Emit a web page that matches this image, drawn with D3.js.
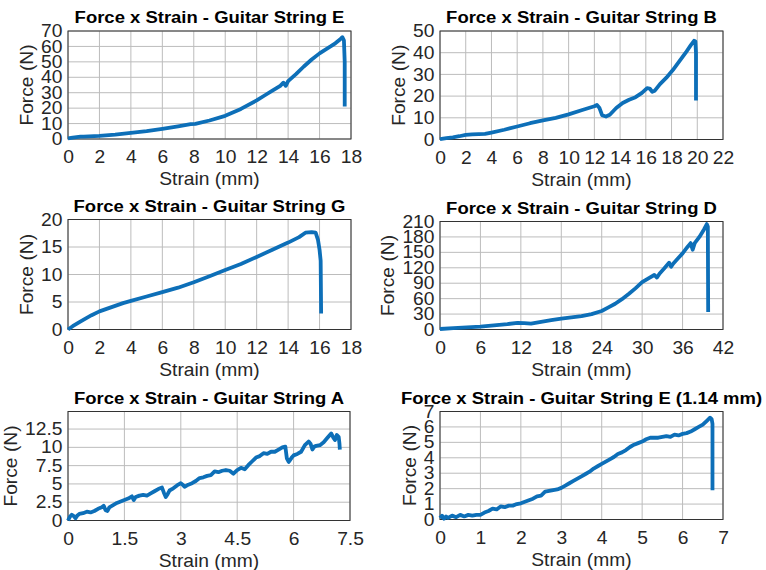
<!DOCTYPE html>
<html>
<head>
<meta charset="utf-8">
<script src="https://cdn.jsdelivr.net/npm/d3@7"></script>
<style>
  body { margin: 0; background: #fff; }
  svg { display: block; font-family: "Liberation Sans", Arial, sans-serif; }
</style>
</head>
<body>
<svg id="chart" width="766" height="570"></svg>
<script>
// guitar string E
var strainE = [0, 0.3, 0.8, 1, 2, 3, 4, 5, 6, 7, 7.8, 8.1, 9, 10, 11, 12, 12.5, 13, 13.5, 13.7, 13.85, 14, 14.5, 15, 15.5, 16, 16.3, 16.7, 17, 17.3, 17.45, 17.55, 17.6, 17.6];
var forceE = [0.4, 0.9, 1.5, 1.6, 2.0, 2.8, 3.9, 5.1, 6.6, 8.2, 9.6, 9.8, 12, 15, 19.5, 25, 28.2, 31.3, 34.5, 36.5, 34.5, 37.5, 42, 47, 51.5, 55.5, 57.5, 60, 62, 64.5, 66, 64, 50, 21];

// guitar string B
var strainB = [0, 0.5, 1, 1.5, 2, 2.5, 3, 3.5, 4, 5, 6, 7, 8, 9, 10, 11, 12, 12.2, 12.4, 12.6, 12.9, 13.2, 13.7, 14.2, 14.7, 15.2, 15.7, 16.1, 16.3, 16.5, 16.7, 17.1, 17.6, 18.1, 18.6, 19.1, 19.5, 19.75, 19.85, 19.9, 19.9];
var forceB = [0.2, 0.6, 1, 1.5, 2.1, 2.4, 2.5, 2.6, 3.2, 4.5, 6, 7.5, 8.8, 10, 11.6, 13.5, 15.3, 15.9, 14.5, 11.2, 10.6, 11.4, 14.5, 16.8, 18.3, 19.5, 21.5, 23.7, 23.5, 22, 22.5, 25.5, 28.5, 32, 36, 40, 43.5, 45.5, 45.3, 40, 18];

// guitar string G
var strainG = [0, 0.3, 0.7, 1, 1.5, 2, 2.5, 3, 3.5, 4, 5, 6, 7, 8, 9, 10, 11, 12, 13, 14, 14.7, 15.1, 15.5, 15.75, 15.9, 16.0, 16.07, 16.1];
var forceG = [0, 0.6, 1.3, 1.8, 2.6, 3.3, 3.8, 4.3, 4.8, 5.2, 6.0, 6.8, 7.6, 8.6, 9.7, 10.8, 11.9, 13.2, 14.5, 15.8, 16.8, 17.6, 17.7, 17.6, 16.3, 14.5, 12.5, 2.9];

// guitar string D
var strainD = [0, 2, 4, 6, 8, 10, 11.5, 12.5, 13.5, 15, 16.5, 18, 19.5, 21, 22.5, 24, 25, 26, 27, 28, 29, 30, 31, 31.8, 32.2, 32.6, 33.3, 34, 34.3, 34.6, 35.3, 36, 36.7, 37.2, 37.5, 37.8, 38.5, 39.2, 39.6, 39.75, 39.8];
var forceD = [1, 2.5, 4, 5.5, 8, 10.5, 13, 12.5, 11.5, 15, 18, 21, 23.5, 26, 30, 36, 43, 50, 59, 69, 80, 92, 100, 106, 101, 109, 119, 130, 122, 128, 138, 148, 160, 168, 155, 168, 180, 195, 205, 200, 34];

// guitar string A
var strainA = [0, 0.05, 0.1, 0.15, 0.2, 0.25, 0.3, 0.4, 0.5, 0.6, 0.7, 0.8, 0.9, 0.95, 1.0, 1.05, 1.1, 1.2, 1.3, 1.4, 1.5, 1.6, 1.7, 1.75, 1.8, 1.9, 2.0, 2.1, 2.2, 2.3, 2.4, 2.5, 2.55, 2.6, 2.65, 2.7, 2.8, 2.9, 3.0, 3.05, 3.1, 3.2, 3.3, 3.4, 3.5, 3.6, 3.7, 3.8, 3.9, 4.0, 4.1, 4.2, 4.3, 4.4, 4.5, 4.6, 4.7, 4.8, 4.9, 5.0, 5.1, 5.2, 5.3, 5.4, 5.5, 5.6, 5.7, 5.78, 5.82, 5.87, 5.95, 6.0, 6.1, 6.2, 6.3, 6.4, 6.45, 6.5, 6.55, 6.6, 6.7, 6.8, 6.9, 7.0, 7.05, 7.1, 7.15, 7.2, 7.22, 7.23];
var forceA = [0, 0.5, 0.8, 0.6, 0.3, 0.7, 0.9, 1.0, 1.2, 1.1, 1.3, 1.6, 1.8, 2.0, 1.4, 1.3, 1.8, 2.1, 2.4, 2.6, 2.8, 3.0, 3.3, 2.8, 3.2, 3.4, 3.5, 3.4, 3.7, 4.0, 4.3, 4.5, 3.8, 3.2, 3.6, 4.1, 4.4, 4.8, 5.1, 4.9, 4.6, 4.9, 5.1, 5.4, 5.8, 5.9, 6.1, 6.2, 6.7, 6.6, 6.8, 6.9, 6.8, 6.4, 6.9, 7.2, 7.0, 7.6, 8.1, 8.6, 8.8, 9.2, 9.1, 9.4, 9.4, 9.7, 10.0, 10.1, 8.5, 8.0, 8.6, 8.9, 9.1, 9.4, 10.3, 10.8, 10.5, 9.7, 10.1, 10.2, 10.3, 10.7, 11.3, 11.9, 11.4, 11.0, 11.7, 11.4, 10.5, 9.7];

// guitar string E (1.14 mm)
var strainE2 = [0, 0.05, 0.1, 0.15, 0.2, 0.3, 0.4, 0.5, 0.6, 0.7, 0.8, 0.9, 1.0, 1.1, 1.2, 1.3, 1.4, 1.5, 1.6, 1.7, 1.8, 1.9, 2.0, 2.1, 2.2, 2.3, 2.4, 2.5, 2.6, 2.7, 2.8, 2.9, 3.0, 3.1, 3.2, 3.3, 3.4, 3.5, 3.6, 3.7, 3.8, 3.9, 4.0, 4.1, 4.2, 4.3, 4.4, 4.5, 4.6, 4.7, 4.8, 4.9, 5.0, 5.1, 5.2, 5.3, 5.4, 5.5, 5.6, 5.7, 5.8, 5.9, 6.0, 6.1, 6.2, 6.3, 6.4, 6.5, 6.6, 6.68, 6.72, 6.74, 6.74];
var forceE2 = [0.1, 0.25, 0.05, 0.2, 0.1, 0.25, 0.15, 0.3, 0.2, 0.3, 0.25, 0.3, 0.3, 0.45, 0.55, 0.7, 0.65, 0.85, 0.8, 0.9, 0.9, 1.0, 1.05, 1.15, 1.25, 1.35, 1.5, 1.55, 1.8, 1.85, 1.9, 1.95, 2.05, 2.2, 2.35, 2.5, 2.65, 2.8, 2.95, 3.1, 3.3, 3.45, 3.6, 3.75, 3.9, 4.05, 4.25, 4.35, 4.5, 4.7, 4.85, 4.95, 5.05, 5.2, 5.3, 5.3, 5.3, 5.35, 5.4, 5.35, 5.5, 5.45, 5.55, 5.6, 5.7, 5.85, 6.0, 6.15, 6.4, 6.6, 6.5, 6.2, 1.9];

var panels = [
  { title: "Force x Strain - Guitar String E", xs: strainE, ys: forceE, xMax: 18, xStep: 2, yMax: 70, yTop: 70, yStep: 10, left: 68, right: 351, top: 31, bottom: 139 },
  { title: "Force x Strain - Guitar String B", xs: strainB, ys: forceB, xMax: 22, xStep: 2, yMax: 50, yTop: 50, yStep: 10, left: 440, right: 723, top: 31, bottom: 139.5 },
  { title: "Force x Strain - Guitar String G", xs: strainG, ys: forceG, xMax: 18, xStep: 2, yMax: 20, yTop: 20, yStep: 5, left: 68, right: 351, top: 219.5, bottom: 329.5 },
  { title: "Force x Strain - Guitar String D", xs: strainD, ys: forceD, xMax: 42, xStep: 6, yMax: 210, yTop: 210, yStep: 30, left: 440, right: 723, top: 221.5, bottom: 329.5 },
  { title: "Force x Strain - Guitar String A", xs: strainA, ys: forceA, xMax: 7.5, xStep: 1.5, yMax: 14.9, yTop: 12.5, yStep: 2.5, left: 68, right: 350, top: 411.5, bottom: 520.5 },
  { title: "Force x Strain - Guitar String E (1.14 mm)", xs: strainE2, ys: forceE2, xMax: 7, xStep: 1, yMax: 7, yTop: 7, yStep: 1, left: 440, right: 723, top: 411.5, bottom: 519.5 }
];

var svg = d3.select("#chart");
var sx = 1.1; // source text is a little wide
var blue = "#0d6fb8";

panels.forEach(function (p) {
  var x = d3.scaleLinear().domain([0, p.xMax]).range([p.left, p.right]);
  var y = d3.scaleLinear().domain([0, p.yMax]).range([p.bottom, p.top]);
  var xt = d3.range(0, p.xMax + 1e-6, p.xStep);
  var yt = d3.range(0, p.yTop + 1e-6, p.yStep);
  var g = svg.append("g");

  // grid
  g.append("g").selectAll("line").data(xt).enter().append("line")
      .attr("x1", d => x(d)).attr("x2", d => x(d))
      .attr("y1", p.top).attr("y2", p.bottom)
      .attr("stroke", "#bcbcbc").attr("stroke-width", 1);
  g.append("g").selectAll("line").data(yt).enter().append("line")
      .attr("x1", p.left).attr("x2", p.right)
      .attr("y1", d => y(d)).attr("y2", d => y(d))
      .attr("stroke", "#bcbcbc").attr("stroke-width", 1);

  // axes, labels only
  var ax = g.append("g")
      .attr("transform", "translate(0," + p.bottom + ")")
      .call(d3.axisBottom(x).tickValues(xt).tickSize(0).tickPadding(12).tickFormat(d => String(+d.toFixed(2))));
  var ay = g.append("g")
      .attr("transform", "translate(" + p.left + ",0)")
      .call(d3.axisLeft(y).tickValues(yt).tickSize(0).tickPadding(5).tickFormat(d => String(+d.toFixed(2))));
  [ax, ay].forEach(function (a) {
    a.select(".domain").remove();
    a.selectAll("text")
        .attr("font-size", 17.5)
        .attr("font-family", null)
        .attr("fill", "#262626")
        .attr("transform", "scale(" + sx + ",1)");
  });
  var bb = ay.node().getBBox();

  // box
  g.append("rect")
      .attr("x", p.left).attr("y", p.top)
      .attr("width", p.right - p.left).attr("height", p.bottom - p.top)
      .attr("fill", "none").attr("stroke", "#333").attr("stroke-width", 1);

  // curve
  var pts = p.xs.map((v, i) => [v, p.ys[i]]);
  g.append("path")
      .datum(pts)
      .attr("d", d3.line().x(d => x(d[0])).y(d => y(d[1])))
      .attr("fill", "none")
      .attr("stroke", blue)
      .attr("stroke-width", 3.8)
      .attr("stroke-linejoin", "round");

  var cx = (p.left + p.right) / 2;
  g.append("text")
      .attr("transform", "translate(" + cx + "," + (p.top - 8) + ") scale(" + sx + ",1)")
      .attr("text-anchor", "middle")
      .attr("font-size", 16.8)
      .attr("font-weight", "bold")
      .attr("fill", "#000")
      .text(p.title);
  g.append("text")
      .attr("transform", "translate(" + cx + "," + (p.bottom + 46) + ") scale(" + sx + ",1)")
      .attr("text-anchor", "middle")
      .attr("font-size", 17.5)
      .attr("fill", "#262626")
      .text("Strain (mm)");
  var lx = p.left - bb.width - 8;
  g.append("text")
      .attr("transform", "translate(" + lx + "," + ((p.top + p.bottom) / 2) + ") rotate(-90) scale(" + sx + ",1)")
      .attr("text-anchor", "middle")
      .attr("font-size", 17.5)
      .attr("fill", "#262626")
      .text("Force (N)");
});
</script>
</body>
</html>
